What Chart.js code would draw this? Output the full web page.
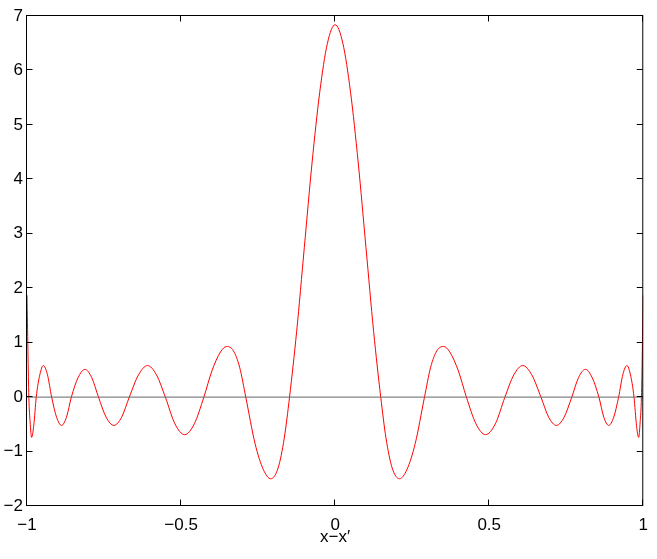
<!DOCTYPE html>
<html><head><meta charset="utf-8">
<script src="https://cdn.jsdelivr.net/npm/chart.js@4"></script>
<style>html,body{margin:0;padding:0;background:#fff;}canvas{display:block;}</style>
</head><body>
<canvas id="c" width="657" height="559"></canvas>
<script>
const xValues = [
  -1.000, -0.994, -0.990, -0.985, -0.978, -0.970, -0.958, -0.947, -0.934, -0.920,
  -0.904, -0.888, -0.872, -0.856, -0.834, -0.812, -0.790, -0.768, -0.743, -0.718,
  -0.693, -0.668, -0.638, -0.609, -0.580, -0.551, -0.520, -0.488, -0.457, -0.426,
  -0.400, -0.372, -0.352, -0.330, -0.310, -0.290, -0.260, -0.233, -0.209, -0.185,
  -0.165, -0.148, -0.125, -0.100, -0.075, -0.050, -0.025, 0.000,
  0.025, 0.050, 0.075, 0.100, 0.125, 0.148, 0.165, 0.185, 0.209, 0.233,
  0.260, 0.290, 0.310, 0.330, 0.352, 0.372, 0.400, 0.426, 0.457, 0.488,
  0.520, 0.551, 0.580, 0.609, 0.638, 0.668, 0.693, 0.718, 0.743, 0.768,
  0.790, 0.812, 0.834, 0.856, 0.872, 0.888, 0.904, 0.920, 0.934, 0.947,
  0.958, 0.970, 0.978, 0.985, 0.990, 0.994, 1.000
];
const yValues = [
  1.87, 0.00, -0.45, -0.74, -0.52, 0.00, 0.42, 0.58, 0.42, 0.00,
  -0.37, -0.52, -0.37, 0.00, 0.36, 0.51, 0.36, 0.00, -0.37, -0.52,
  -0.37, 0.00, 0.41, 0.58, 0.41, 0.00, -0.49, -0.69, -0.49, 0.00,
  0.48, 0.83, 0.93, 0.85, 0.55, 0.00, -0.85, -1.33, -1.50, -1.30,
  -0.75, 0.00, 1.20, 2.75, 4.30, 5.60, 6.50, 6.84,
  6.50, 5.60, 4.30, 2.75, 1.20, 0.00, -0.75, -1.30, -1.50, -1.33,
  -0.85, 0.00, 0.55, 0.85, 0.93, 0.83, 0.48, 0.00, -0.49, -0.69,
  -0.49, 0.00, 0.41, 0.58, 0.41, 0.00, -0.37, -0.52, -0.37, 0.00,
  0.36, 0.51, 0.36, 0.00, -0.37, -0.52, -0.37, 0.00, 0.42, 0.58,
  0.42, 0.00, -0.52, -0.74, -0.45, 0.00, 1.87
];
const zeroLineX = [-1, 1];
const zeroLineY = [0, 0];
const xTicks = [-1, -0.5, 0, 0.5, 1];
const yTicks = [-2, -1, 0, 1, 2, 3, 4, 5, 6, 7];
const xTitle = 'x\u2212x\u2032';

const fmt = v => (v < 0 ? '\u2212' + Math.abs(v) : String(v));
const FONT = {family: '"Liberation Sans", Arial, sans-serif', size: 17};

const framePlugin = {
  id: 'frame',
  afterDatasetsDraw(chart) {
    const {ctx, chartArea: {left, right, top, bottom}, scales: {x, y}} = chart;
    ctx.save();
    ctx.strokeStyle = '#000';
    ctx.lineWidth = 1;
    ctx.beginPath();
    const L = left - 0.5, R = right - 0.5, T = top - 0.5, B = bottom - 0.5;
    xTicks.forEach(v => {
      const px = Math.round(x.getPixelForValue(v)) - 0.5;
      ctx.moveTo(px, B); ctx.lineTo(px, B - 6);
      ctx.moveTo(px, T); ctx.lineTo(px, T + 6);
    });
    yTicks.forEach(v => {
      const py = Math.round(y.getPixelForValue(v)) - 0.5;
      ctx.moveTo(L, py); ctx.lineTo(L + 6, py);
      ctx.moveTo(R, py); ctx.lineTo(R - 6, py);
    });
    ctx.stroke();
    ctx.strokeRect(L, T, R - L, B - T);
    ctx.restore();
  }
};

new Chart(document.getElementById('c'), {
  type: 'line',
  data: {
    datasets: [
      {
        data: xValues.map((v, i) => ({x: v, y: yValues[i]})),
        borderColor: '#ff0000',
        borderWidth: 1,
        pointRadius: 0,
        cubicInterpolationMode: 'monotone',
        fill: false,
        order: 2
      },
      {
        data: zeroLineX.map((v, i) => ({x: v, y: zeroLineY[i]})),
        borderColor: '#666666',
        borderWidth: 1,
        pointRadius: 0,
        fill: false,
        order: 1
      }
    ]
  },
  options: {
    responsive: false,
    animation: false,
    events: [],
    layout: {padding: {top: 16, right: 10, left: 0, bottom: 0}},
    plugins: {legend: {display: false}, tooltip: {enabled: false}},
    scales: {
      x: {
        type: 'linear',
        min: -1, max: 1,
        grid: {display: false, drawTicks: false},
        border: {display: false},
        afterBuildTicks: s => { s.ticks = xTicks.map(v => ({value: v})); },
        afterFit: s => { s.height = 53; },
        ticks: {font: FONT, color: '#000', padding: 9, maxRotation: 0, callback: v => fmt(v)},
        title: {display: true, text: xTitle, font: FONT, color: '#000', padding: {top: 0, bottom: 11}}
      },
      y: {
        type: 'linear',
        min: -2, max: 7,
        grid: {display: false, drawTicks: false},
        border: {display: false},
        afterBuildTicks: s => { s.ticks = yTicks.map(v => ({value: v})); },
        afterFit: s => { s.width = 27; },
        ticks: {font: FONT, color: '#000', padding: 4, callback: v => fmt(v)}
      }
    }
  },
  plugins: [framePlugin]
});
</script>
</body></html>
